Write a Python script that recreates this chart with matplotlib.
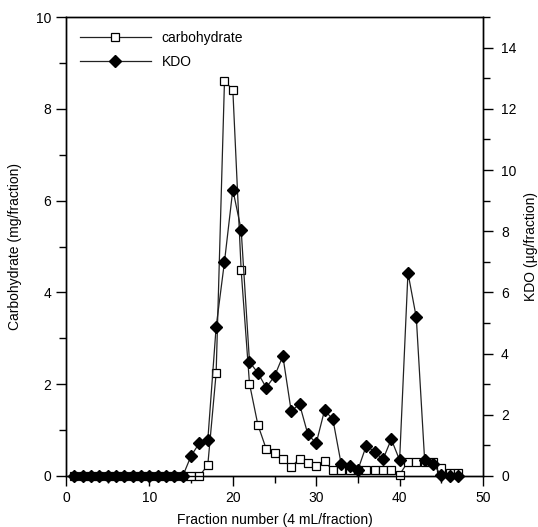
import numpy as np
import matplotlib
matplotlib.use("Agg")
import matplotlib.pyplot as plt
from matplotlib.ticker import MultipleLocator

plt.rcParams['font.family'] = ['Liberation Sans', 'DejaVu Sans']

# fraction numbers
fractions = list(range(1, 48))

# carbohydrate, mg/fraction (left axis)
carbohydrate = [0]*16 + [0.24, 2.24, 8.6, 8.42, 4.48, 2.01, 1.12, 0.59, 0.5, 0.36,
                         0.19, 0.38, 0.28, 0.21, 0.32, 0.12, 0.12, 0.13, 0.12, 0.13,
                         0.12, 0.13, 0.12, 0.03, 0.31, 0.31, 0.31, 0.31, 0.17, 0.06, 0.06]

# KDO, ug/fraction (right axis)
kdo = [0]*14 + [0.66, 1.08, 1.17, 4.87, 7.0, 9.36, 8.05, 3.73, 3.37, 2.89, 3.26,
                3.92, 2.12, 2.35, 1.36, 1.07, 2.15, 1.85, 0.38, 0.33, 0.2, 0.99,
                0.79, 0.54, 1.2, 0.52, 6.64, 5.18, 0.52, 0.39, 0.03, 0.0, 0.0]

fig = plt.figure(figsize=(5.38, 5.27), dpi=100)
ax = fig.add_axes([0.1227, 0.0968, 0.7751, 0.8709])
ax2 = ax.twinx()

lc = '#222222'
l1, = ax.plot(fractions, carbohydrate, color=lc, lw=0.9, marker='s', ms=6,
              mfc='white', mec='black', mew=0.9, clip_on=False, zorder=3,
              label='carbohydrate')
l2, = ax2.plot(fractions, kdo, color=lc, lw=0.9, marker='D', ms=6.5,
               mfc='black', mec='black', clip_on=False, zorder=4, label='KDO')

ax.set_xlim(0, 50)
ax.set_ylim(0, 10)
ax2.set_ylim(0, 15)

ax.xaxis.set_major_locator(MultipleLocator(10))
ax.xaxis.set_minor_locator(MultipleLocator(5))
ax.yaxis.set_major_locator(MultipleLocator(2))
ax.yaxis.set_minor_locator(MultipleLocator(1))
ax2.yaxis.set_major_locator(MultipleLocator(2))
ax2.yaxis.set_minor_locator(MultipleLocator(1))
ax2.set_yticks([0, 2, 4, 6, 8, 10, 12, 14])

for a in (ax, ax2):
    a.tick_params(which='major', direction='out', length=7, width=1, labelsize=10)
    a.tick_params(which='minor', direction='out', length=5, width=1)
    for s in a.spines.values():
        s.set_linewidth(1)
ax2.tick_params(axis='y', pad=6)

ax.set_xlabel('Fraction number (4 mL/fraction)', fontsize=10, labelpad=6)
ax.set_ylabel('Carbohydrate (mg/fraction)', fontsize=10, labelpad=10)
ax2.set_ylabel('KDO (\u00b5g/fraction)', fontsize=10, labelpad=5)

ax.legend([l1, l2], ['carbohydrate', 'KDO'], loc='upper left', frameon=False,
          fontsize=10, handlelength=5.1, borderaxespad=0.6, labelspacing=0.7)

fig.savefig('out.png', dpi=100)
